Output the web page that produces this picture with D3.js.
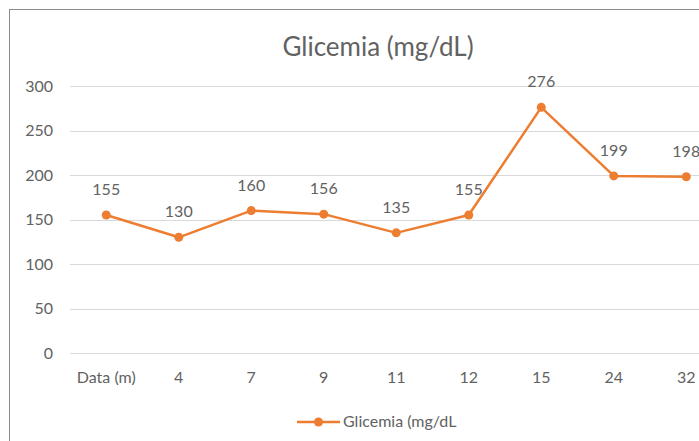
<!DOCTYPE html>
<html>
<head>
<meta charset="utf-8">
<script src="https://cdn.jsdelivr.net/npm/d3@7"></script>
<style>
  html, body { margin: 0; padding: 0; background: #fff; }
  svg { display: block; font-family: Lato, "Open Sans", sans-serif; }
</style>
</head>
<body>
<svg id="chart" width="699" height="441"></svg>
<script>
// Glycemia readings per visit
const categories = ["Data (m)", "4", "7", "9", "11", "12", "15", "24", "32"];
const glicemia = [155, 130, 160, 156, 135, 155, 276, 199, 198];
const yTicks = [0, 50, 100, 150, 200, 250, 300];
const seriesName = "Glicemia (mg/dL";
const chartTitle = "Glicemia (mg/dL)";

const svg = d3.select("#chart");
const orange = "#ED7D31";
const textGrey = "#626262";
const chartCenter = 378;

// chart frame
svg.append("rect")
  .attr("x", 9.5).attr("y", 9.5)
  .attr("width", 760).attr("height", 500)
  .attr("fill", "#fff").attr("stroke", "#8c8c8c").attr("stroke-width", 1);

const plot = { left: 70, right: 722.5, top: 86, bottom: 353 };

const x = d3.scaleBand().domain(categories).range([plot.left, plot.right]).padding(0);
const y = d3.scaleLinear().domain([0, 300]).range([plot.bottom, plot.top]);

// title
svg.append("text")
  .attr("x", chartCenter).attr("y", 56)
  .attr("text-anchor", "middle")
  .attr("font-size", 26).attr("fill", textGrey)
  .text(chartTitle);

// gridlines
svg.append("g").selectAll("line").data(yTicks).join("line")
  .attr("x1", plot.left).attr("x2", plot.right)
  .attr("y1", d => Math.round(y(d)) + 0.5).attr("y2", d => Math.round(y(d)) + 0.5)
  .attr("stroke", "#d9d9d9").attr("stroke-width", 1);

// y axis labels
const yAxis = d3.axisLeft(y).tickValues(yTicks).tickSize(0).tickPadding(17);
svg.append("g")
  .attr("transform", `translate(${plot.left},0)`)
  .call(yAxis)
  .call(g => g.select(".domain").remove())
  .call(g => g.selectAll("text").attr("font-size", 16).attr("fill", textGrey).attr("font-family", "Lato, sans-serif"));

// x axis labels
const xAxis = d3.axisBottom(x).tickSize(0).tickPadding(19);
svg.append("g")
  .attr("transform", `translate(0,${plot.bottom})`)
  .call(xAxis)
  .call(g => g.select(".domain").remove())
  .call(g => g.selectAll("text").attr("font-size", 16).attr("fill", textGrey).attr("font-family", "Lato, sans-serif"));

const cx = (d, i) => x(categories[i]) + x.bandwidth() / 2;

// line
const line = d3.line().x((d, i) => cx(d, i)).y(d => y(d));
svg.append("path")
  .datum(glicemia)
  .attr("d", line)
  .attr("fill", "none").attr("stroke", orange)
  .attr("stroke-width", 2.5).attr("stroke-linejoin", "round");

// markers
svg.append("g").selectAll("circle").data(glicemia).join("circle")
  .attr("cx", cx).attr("cy", d => y(d)).attr("r", 4.5)
  .attr("fill", orange);

// value labels
svg.append("g").selectAll("text").data(glicemia).join("text")
  .attr("x", cx).attr("y", d => y(d) - 20)
  .attr("text-anchor", "middle")
  .attr("font-size", 16).attr("fill", textGrey)
  .text(d => d);

// legend, centred under the chart
const lg = svg.append("g").attr("transform", "translate(297,422)");
lg.append("line").attr("x1", 0).attr("x2", 43).attr("y1", 0).attr("y2", 0)
  .attr("stroke", orange).attr("stroke-width", 2.5);
lg.append("circle").attr("cx", 21.5).attr("cy", 0).attr("r", 4.5).attr("fill", orange);
lg.append("text").attr("x", 46).attr("y", 5)
  .attr("font-size", 16).attr("fill", textGrey)
  .text(seriesName);
</script>
</body>
</html>
